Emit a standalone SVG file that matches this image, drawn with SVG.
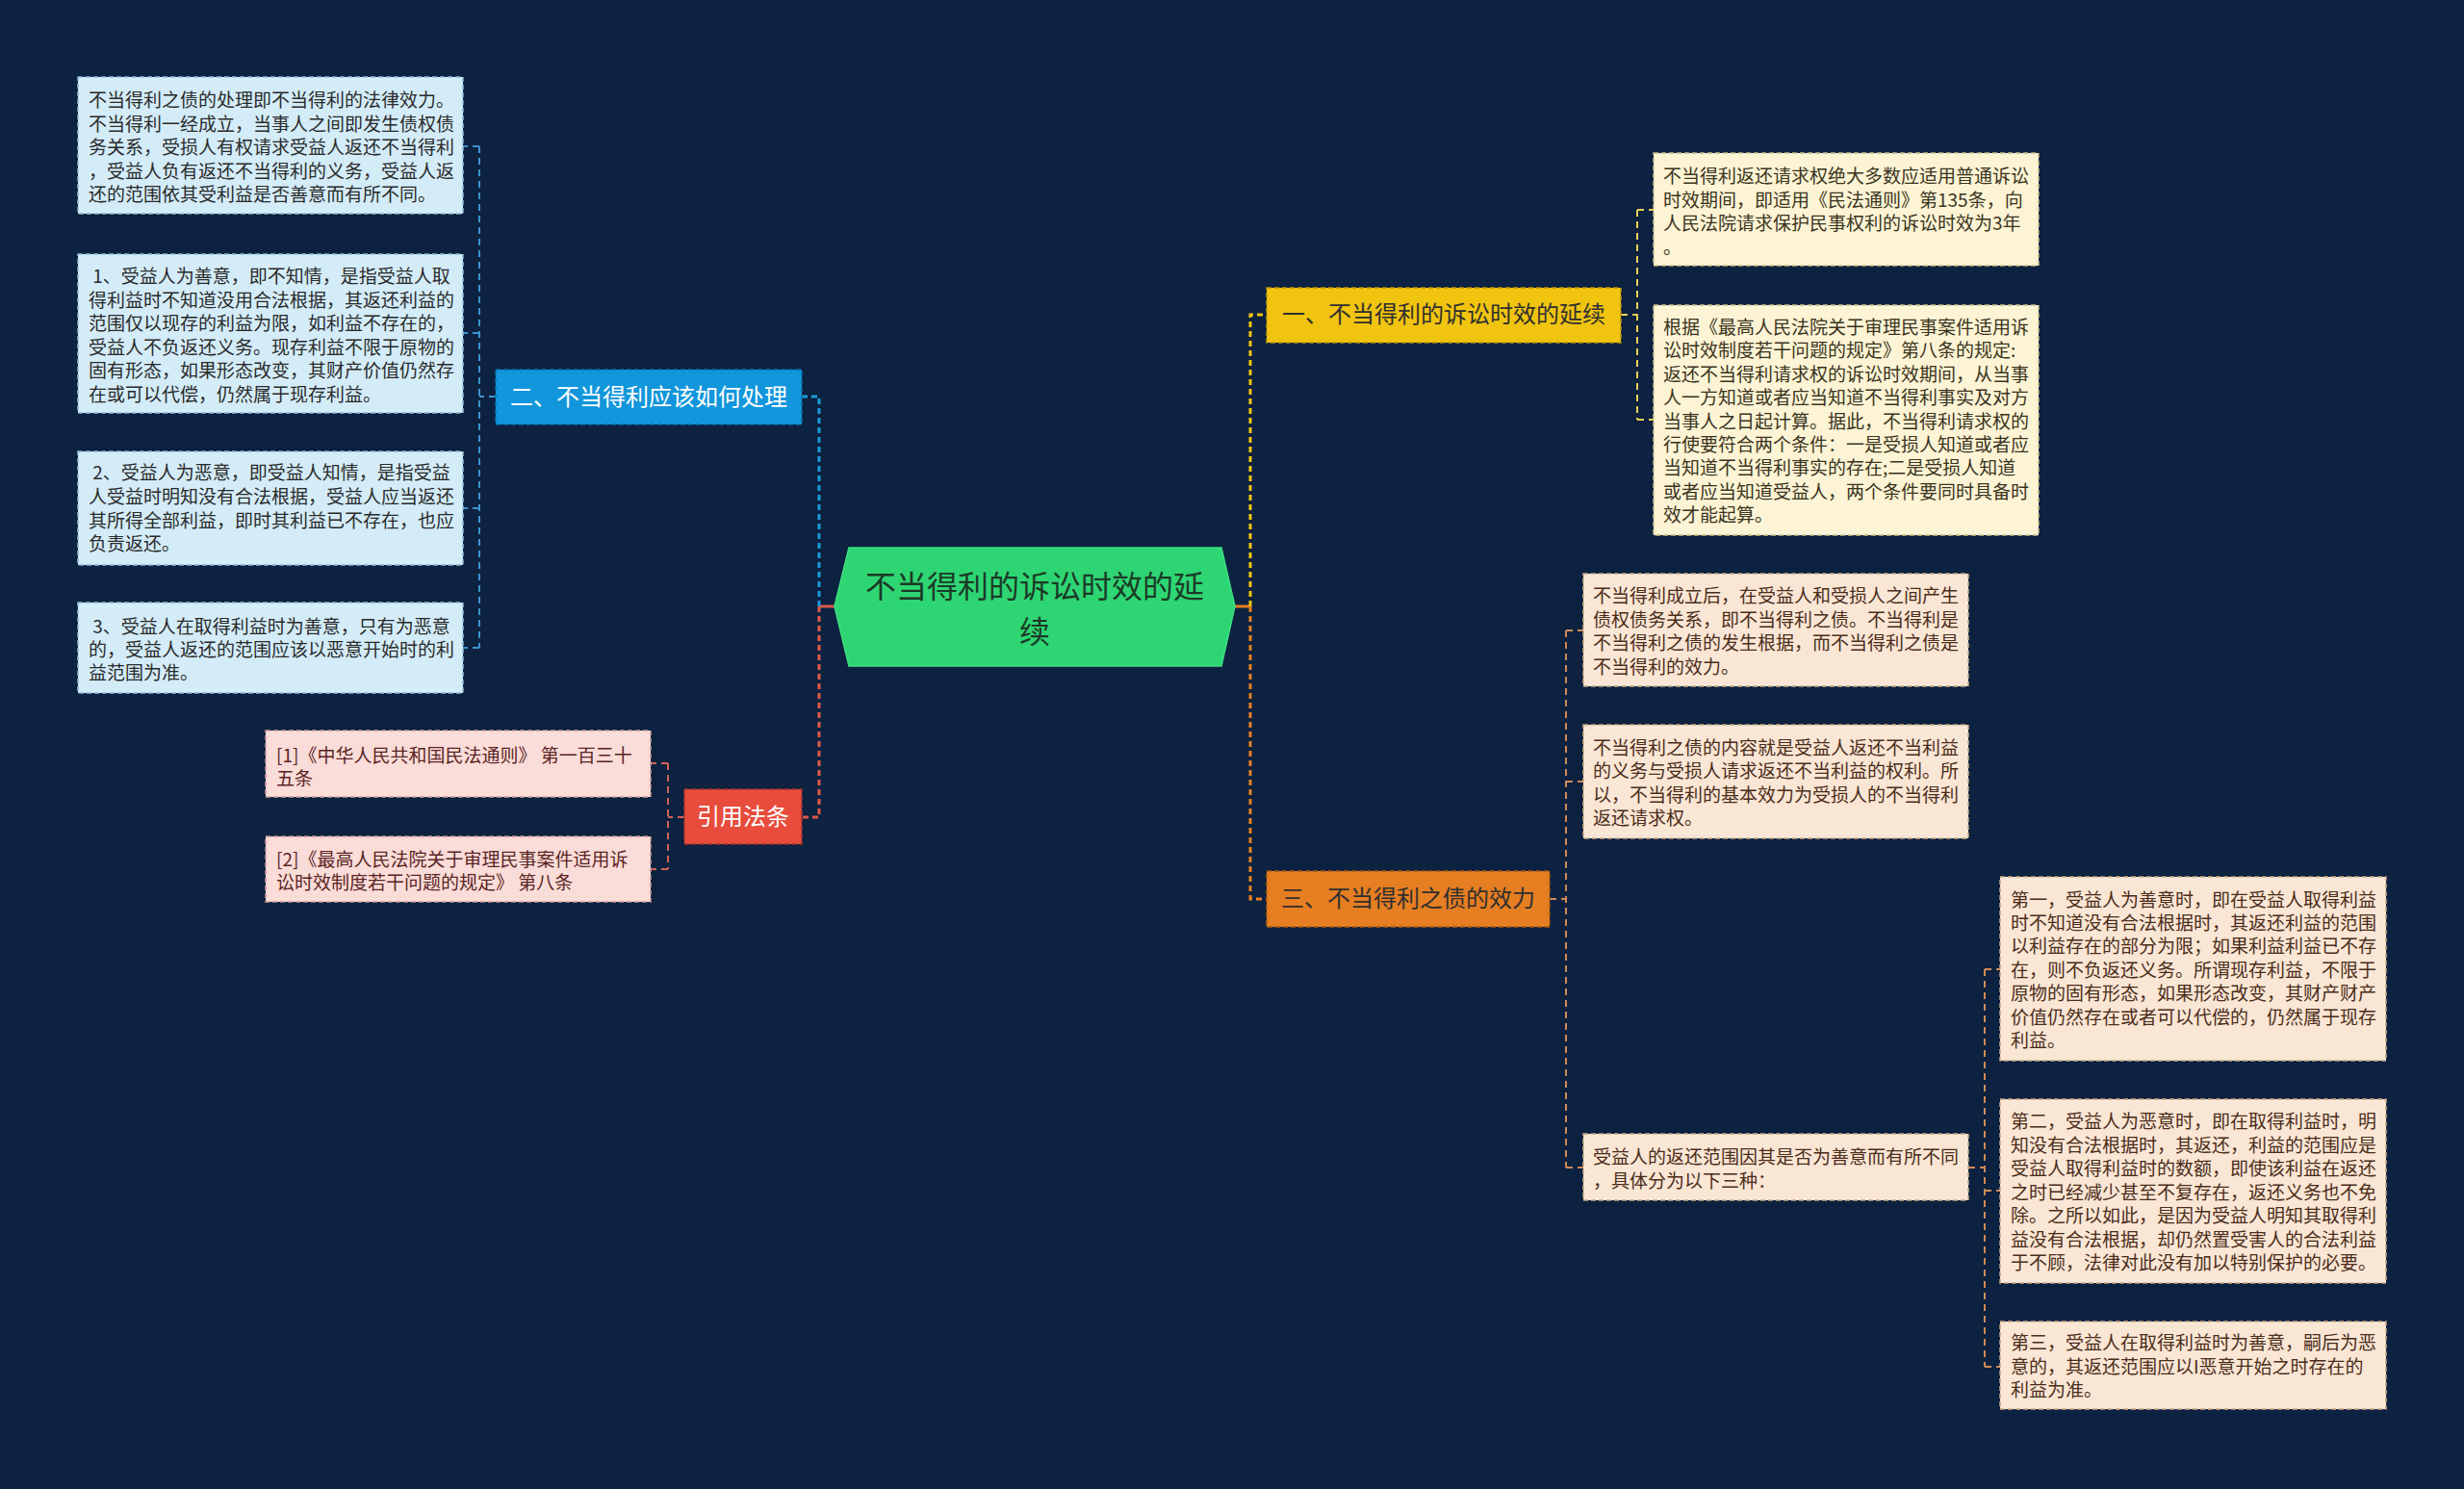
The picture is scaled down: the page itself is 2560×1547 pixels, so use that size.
<svg xmlns="http://www.w3.org/2000/svg" width="2560" height="1547" viewBox="0 0 2560 1547">
<style>
text{font-family:"Noto Sans CJK SC","Noto Sans",sans-serif;}
.t19{font-size:19px;}
.t24{font-size:24px;}
.c{fill:none;stroke-width:2;}
.lb{fill:#d3ecf8;stroke:#8fb9d3;stroke-width:1.5;stroke-dasharray:5 3;}
.pk{fill:#fadcd8;stroke:#c99a96;stroke-width:1.5;stroke-dasharray:5 3;}
.cr{fill:#fcf4d4;stroke:#c9bd8c;stroke-width:1.5;stroke-dasharray:5 3;}
.pe{fill:#fae6d4;stroke:#c8a888;stroke-width:1.5;stroke-dasharray:5 3;}
</style>
<rect width="2560" height="1547" fill="#0d2240"/>
<g id="connectors">
<path d="M1283,630 H1299" stroke="#e67e22" stroke-width="3" fill="none"/>
<path d="M867,630 H851" stroke="#e0584a" stroke-width="3" fill="none"/>
<path d="M1299,630 V327 H1316" stroke="#f1c40f" stroke-width="3" stroke-dasharray="6 4" fill="none"/>
<path d="M1299,630 V934 H1316" stroke="#e67e22" stroke-width="3" stroke-dasharray="6 4" fill="none"/>
<path d="M851,630 V412 H833" stroke="#1a9bdb" stroke-width="3" stroke-dasharray="6 4" fill="none"/>
<path d="M851,630 V849 H833" stroke="#e0584a" stroke-width="3" stroke-dasharray="6 4" fill="none"/>
<path d="M1684,327 H1701 M1701,218 V436 M1701,218 H1718 M1701,436 H1718" stroke="#e8cf55" class="c" stroke-dasharray="7 5"/>
<path d="M515,412 H498 M498,152 V673 M498,152 H481 M498,346 H481 M498,528 H481 M498,673 H481" stroke="#3b93d0" class="c" stroke-dasharray="7 5"/>
<path d="M711,849 H694 M694,793 V903 M694,793 H676 M694,903 H676" stroke="#d0625a" class="c" stroke-dasharray="7 5"/>
<path d="M1610,934 H1627 M1627,655 V1213 M1627,655 H1645 M1627,812 H1645 M1627,1213 H1645" stroke="#d08a55" class="c" stroke-dasharray="7 5"/>
<path d="M2045,1213 H2062 M2062,1007 V1420 M2062,1007 H2078 M2062,1237 H2078 M2062,1420 H2078" stroke="#d08a55" class="c" stroke-dasharray="7 5"/>
</g>
<g id="root">
<polygon points="867,630 882,569 1269,569 1283,630 1269,692 882,692" fill="#2ed573" stroke="#3ee083" stroke-width="1.5"/>
<text x="1075" y="621" font-size="32" fill="#1b3a26" text-anchor="middle">不当得利的诉讼时效的延</text>
<text x="1075" y="668" font-size="32" fill="#1b3a26" text-anchor="middle">续</text>
</g>
<g id="n1">
<rect x="1316" y="299" width="368" height="57" fill="#f1c40f" stroke="#b8930a" stroke-width="1.5" stroke-dasharray="5 3"/>
<text x="1500" y="335" class="t24" fill="#2f2f2f" text-anchor="middle">一、不当得利的诉讼时效的延续</text>
</g>
<g id="n1a">
<rect x="1718" y="159" width="400" height="117" class="cr"/>
<text class="t19" fill="#3a3320"><tspan x="1728" y="190">不当得利返还请求权绝大多数应适用普通诉讼</tspan><tspan x="1728" dy="24.5">时效期间，即适用《民法通则》第135条，向</tspan><tspan x="1728" dy="24.5">人民法院请求保护民事权利的诉讼时效为3年</tspan><tspan x="1728" dy="24.5">。</tspan></text>
</g>
<g id="n1b">
<rect x="1718" y="317" width="400" height="239" class="cr"/>
<text class="t19" fill="#3a3320"><tspan x="1728" y="347">根据《最高人民法院关于审理民事案件适用诉</tspan><tspan x="1728" dy="24.4">讼时效制度若干问题的规定》第八条的规定:</tspan><tspan x="1728" dy="24.4">返还不当得利请求权的诉讼时效期间，从当事</tspan><tspan x="1728" dy="24.4">人一方知道或者应当知道不当得利事实及对方</tspan><tspan x="1728" dy="24.4">当事人之日起计算。据此，不当得利请求权的</tspan><tspan x="1728" dy="24.4">行使要符合两个条件：一是受损人知道或者应</tspan><tspan x="1728" dy="24.4">当知道不当得利事实的存在;二是受损人知道</tspan><tspan x="1728" dy="24.4">或者应当知道受益人，两个条件要同时具备时</tspan><tspan x="1728" dy="24.4">效才能起算。</tspan></text>
</g>
<g id="n2">
<rect x="515" y="384" width="318" height="57" fill="#1296db" stroke="#0b6fa6" stroke-width="1.5" stroke-dasharray="5 3"/>
<text x="674" y="421" class="t24" fill="#ffffff" text-anchor="middle">二、不当得利应该如何处理</text>
</g>
<g id="n2a">
<rect x="81" y="80" width="400" height="142" class="lb"/>
<text class="t19" fill="#2a2a2a"><tspan x="92" y="111">不当得利之债的处理即不当得利的法律效力。</tspan><tspan x="92" dy="24.6">不当得利一经成立，当事人之间即发生债权债</tspan><tspan x="92" dy="24.6">务关系，受损人有权请求受益人返还不当得利</tspan><tspan x="92" dy="24.6">，受益人负有返还不当得利的义务，受益人返</tspan><tspan x="92" dy="24.6">还的范围依其受利益是否善意而有所不同。</tspan></text>
</g>
<g id="n2b">
<rect x="81" y="264" width="400" height="165" class="lb"/>
<text class="t19" fill="#2a2a2a"><tspan x="92" y="294">&#160;1、受益人为善意，即不知情，是指受益人取</tspan><tspan x="92" dy="24.5">得利益时不知道没用合法根据，其返还利益的</tspan><tspan x="92" dy="24.5">范围仅以现存的利益为限，如利益不存在的，</tspan><tspan x="92" dy="24.5">受益人不负返还义务。现存利益不限于原物的</tspan><tspan x="92" dy="24.5">固有形态，如果形态改变，其财产价值仍然存</tspan><tspan x="92" dy="24.5">在或可以代偿，仍然属于现存利益。</tspan></text>
</g>
<g id="n2c">
<rect x="81" y="469" width="400" height="118" class="lb"/>
<text class="t19" fill="#2a2a2a"><tspan x="92" y="498">&#160;2、受益人为恶意，即受益人知情，是指受益</tspan><tspan x="92" dy="24.8">人受益时明知没有合法根据，受益人应当返还</tspan><tspan x="92" dy="24.8">其所得全部利益，即时其利益已不存在，也应</tspan><tspan x="92" dy="24.8">负责返还。</tspan></text>
</g>
<g id="n2d">
<rect x="81" y="626" width="400" height="94" class="lb"/>
<text class="t19" fill="#2a2a2a"><tspan x="92" y="658">&#160;3、受益人在取得利益时为善意，只有为恶意</tspan><tspan x="92" dy="24.2">的，受益人返还的范围应该以恶意开始时的利</tspan><tspan x="92" dy="24.2">益范围为准。</tspan></text>
</g>
<g id="n4">
<rect x="711" y="820" width="122" height="57" fill="#e74c3c" stroke="#a8362a" stroke-width="1.5" stroke-dasharray="5 3"/>
<text x="772" y="857" class="t24" fill="#ffffff" text-anchor="middle">引用法条</text>
</g>
<g id="n4a">
<rect x="276" y="759" width="400" height="69" class="pk"/>
<text class="t19" fill="#5a2424"><tspan x="287" y="792">[1]《中华人民共和国民法通则》 第一百三十</tspan><tspan x="287" dy="23.5">五条</tspan></text>
</g>
<g id="n4b">
<rect x="276" y="869" width="400" height="68" class="pk"/>
<text class="t19" fill="#5a2424"><tspan x="287" y="900">[2]《最高人民法院关于审理民事案件适用诉</tspan><tspan x="287" dy="24">讼时效制度若干问题的规定》 第八条</tspan></text>
</g>
<g id="n3">
<rect x="1316" y="905" width="294" height="58" fill="#e67e22" stroke="#a85a12" stroke-width="1.5" stroke-dasharray="5 3"/>
<text x="1463" y="942" class="t24" fill="#2f2f2f" text-anchor="middle">三、不当得利之债的效力</text>
</g>
<g id="n3a">
<rect x="1645" y="596" width="400" height="117" class="pe"/>
<text class="t19" fill="#4a2c1a"><tspan x="1655" y="626">不当得利成立后，在受益人和受损人之间产生</tspan><tspan x="1655" dy="24.7">债权债务关系，即不当得利之债。不当得利是</tspan><tspan x="1655" dy="24.7">不当得利之债的发生根据，而不当得利之债是</tspan><tspan x="1655" dy="24.7">不当得利的效力。</tspan></text>
</g>
<g id="n3b">
<rect x="1645" y="753" width="400" height="118" class="pe"/>
<text class="t19" fill="#4a2c1a"><tspan x="1655" y="784">不当得利之债的内容就是受益人返还不当利益</tspan><tspan x="1655" dy="24.4">的义务与受损人请求返还不当利益的权利。所</tspan><tspan x="1655" dy="24.4">以，不当得利的基本效力为受损人的不当得利</tspan><tspan x="1655" dy="24.4">返还请求权。</tspan></text>
</g>
<g id="n3c">
<rect x="1645" y="1178" width="400" height="69" class="pe"/>
<text class="t19" fill="#4a2c1a"><tspan x="1655" y="1209">受益人的返还范围因其是否为善意而有所不同</tspan><tspan x="1655" dy="25">，具体分为以下三种：</tspan></text>
</g>
<g id="n3c1">
<rect x="2078" y="911" width="401" height="191" class="pe"/>
<text class="t19" fill="#4a2c1a"><tspan x="2089" y="941.5">第一，受益人为善意时，即在受益人取得利益</tspan><tspan x="2089" dy="24.4">时不知道没有合法根据时，其返还利益的范围</tspan><tspan x="2089" dy="24.4">以利益存在的部分为限；如果利益利益已不存</tspan><tspan x="2089" dy="24.4">在，则不负返还义务。所谓现存利益，不限于</tspan><tspan x="2089" dy="24.4">原物的固有形态，如果形态改变，其财产财产</tspan><tspan x="2089" dy="24.4">价值仍然存在或者可以代偿的，仍然属于现存</tspan><tspan x="2089" dy="24.4">利益。</tspan></text>
</g>
<g id="n3c2">
<rect x="2078" y="1142" width="401" height="191" class="pe"/>
<text class="t19" fill="#4a2c1a"><tspan x="2089" y="1172">第二，受益人为恶意时，即在取得利益时，明</tspan><tspan x="2089" dy="24.5">知没有合法根据时，其返还，利益的范围应是</tspan><tspan x="2089" dy="24.5">受益人取得利益时的数额，即使该利益在返还</tspan><tspan x="2089" dy="24.5">之时已经减少甚至不复存在，返还义务也不免</tspan><tspan x="2089" dy="24.5">除。之所以如此，是因为受益人明知其取得利</tspan><tspan x="2089" dy="24.5">益没有合法根据，却仍然置受害人的合法利益</tspan><tspan x="2089" dy="24.5">于不顾，法律对此没有加以特别保护的必要。</tspan></text>
</g>
<g id="n3c3">
<rect x="2078" y="1373" width="401" height="91" class="pe"/>
<text class="t19" fill="#4a2c1a"><tspan x="2089" y="1402">第三，受益人在取得利益时为善意，嗣后为恶</tspan><tspan x="2089" dy="24.5">意的，其返还范围应以I恶意开始之时存在的</tspan><tspan x="2089" dy="24.5">利益为准。</tspan></text>
</g>
</svg>
